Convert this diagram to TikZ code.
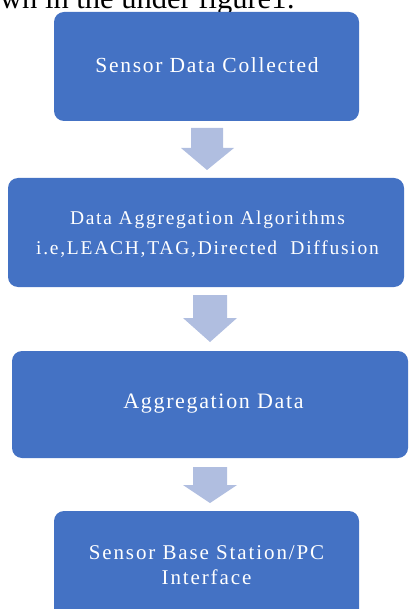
\documentclass[tikz,border=0pt]{standalone}
\usepackage{fontspec}
\setmainfont{Liberation Serif}
\newfontfamily\boxfontA[LetterSpace=8]{Liberation Serif}
\newfontfamily\boxfontB[LetterSpace=9]{Liberation Serif}
\newfontfamily\boxfontC[LetterSpace=7.5]{Liberation Serif}
\definecolor{boxblue}{HTML}{4472C4}
\definecolor{arrowblue}{HTML}{B0BEE0}
\begin{document}
\begin{tikzpicture}[x=1pt,y=-1pt,
  stage/.style={fill=boxblue, draw=none, rounded corners=10pt, inner sep=0pt, text=white, align=center},
  label/.style={text=white, inner sep=0pt, align=center},
  flowarrow/.style={fill=arrowblue, draw=none}]
\useasboundingbox (0,0) rectangle (410,609);
\clip (0,0) rectangle (410,609);
% cut-off sentence at the top
\node[anchor=base west, inner sep=0pt, font=\fontsize{30.5}{34}\selectfont] (intro) at (0,9) {wn in the under figure1:};
% boxes
\node[stage, minimum width=305pt, minimum height=109pt] (b1) at (206.5,66.5) {};
\node[label, font=\boxfontA\fontsize{21.5}{25}\selectfont] (t1) at (207,65) {Sensor Data Collected};
\node[stage, minimum width=396pt, minimum height=109pt] (b2) at (206,232.5) {};
\node[label, font=\boxfontB\fontsize{19.5}{30}\selectfont] (t2) at (207.5,234) {Data Aggregation Algorithms\\i.e,LEACH,TAG,Directed\ \ Diffusion};
\node[stage, minimum width=396pt, minimum height=107pt] (b3) at (210,404.5) {};
\node[label, font=\boxfontC\fontsize{22}{26}\selectfont] (t3) at (213.5,404) {Aggregation Data};
\node[stage, minimum width=305pt, minimum height=109pt] (b4) at (206.5,565.5) {};
\node[label, font=\boxfontB\fontsize{21}{25}\selectfont] (t4) at (206.5,565) {Sensor Base Station/PC\\Interface};
% block arrows
\fill[flowarrow] (191,128) -- (223,128) -- (223,148) -- (234,148) -- (207,170) -- (181,148) -- (191,148) -- cycle;
\fill[flowarrow] (193,295) -- (227,295) -- (227,318) -- (237,318) -- (210,342) -- (183,318) -- (193,318) -- cycle;
\fill[flowarrow] (193,467) -- (227,467) -- (227,485) -- (237,485) -- (210,503) -- (183,485) -- (193,485) -- cycle;
\end{tikzpicture}
\end{document}
